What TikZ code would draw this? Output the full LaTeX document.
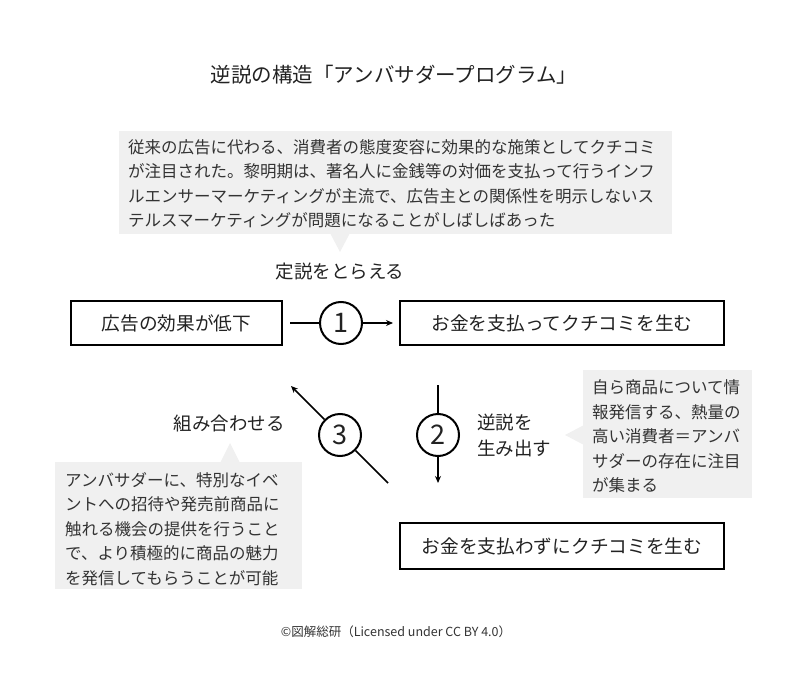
\documentclass[tikz,border=0pt]{standalone}
\usepackage{fontspec}
\setmainfont{Noto Sans CJK JP}
\usetikzlibrary{arrows.meta}
\definecolor{txt}{HTML}{222222}
\definecolor{ctxt}{HTML}{333333}
\definecolor{callgray}{HTML}{F0F0F0}
\begin{document}
\begin{tikzpicture}[x=1pt,y=-1pt,
  every node/.style={inner sep=0pt, text=txt},
  titlefont/.style={font=\fontsize{20.5}{24}\selectfont},
  boxfont/.style={font=\fontsize{18.7}{22}\selectfont},
  callfont/.style={font=\fontsize{16.5}{24.5}\selectfont, text=ctxt, align=left},
  labelfont/.style={font=\fontsize{18.5}{26}\selectfont, align=left},
  mainbox/.style={draw=black, line width=2pt, rectangle, boxfont},
  numcirc/.style={draw=black, line width=2pt, circle, minimum size=42pt, font=\fontsize{27}{30}\selectfont},
  conn/.style={draw=black, line width=1.5pt},
  arr/.style={conn, -{Stealth[length=7pt,width=6pt]}},
  callbg/.style={fill=callgray, draw=none}
]
\useasboundingbox (0,0) rectangle (800,695);

% title
\node[titlefont] (title) at (394,75) {逆説の構造「アンバサダープログラム」};

% callout backgrounds
\fill[callbg] (119,131) rectangle (672,234);
\fill[callbg] (330,233) -- (350,233) -- (340,252) -- cycle;
\fill[callbg] (583,370) rectangle (752,498);
\fill[callbg] (584,425) -- (584,445) -- (565,435) -- cycle;
\fill[callbg] (55,462) rectangle (302,589);
\fill[callbg] (220,463) -- (240,463) -- (230,443) -- cycle;

% callout texts
\node[callfont, anchor=west] (calltop) at (128,183.5) {従来の広告に代わる、消費者の態度変容に効果的な施策としてクチコミ\\が注目された。黎明期は、著名人に金銭等の対価を支払って行うインフ\\ルエンサーマーケティングが主流で、広告主との関係性を明示しない\rlap{ス}\\テルスマーケティングが問題になることがしばしばあった};
\node[callfont, anchor=west] (callright) at (592,436.5) {自ら商品について情\\報発信する、熱量の\\高い消費者＝アンバ\\サダーの存在に注目\\が集まる};
\node[callfont, anchor=west] (callleft) at (65,529) {アンバサダーに、特別なイベ\\ントへの招待や発売前商品に\\触れる機会の提供を行うこと\\で、より積極的に商品の魅力\\を発信してもらうことが可能};

% labels
\node[labelfont] (lab1) at (340,272) {定説をとらえる};
\node[labelfont] (lab3) at (229,423) {組み合わせる};
\node[labelfont, anchor=west] (lab2) at (477,435) {逆説を\\生み出す};

% boxes
\node[mainbox, minimum width=211pt, minimum height=44pt] (b1) at (176.5,323) {広告の効果が低下};
\node[mainbox, minimum width=324pt, minimum height=44pt] (b2) at (562,323) {お金を支払ってクチコミを生む};
\node[mainbox, minimum width=324pt, minimum height=46pt] (b3) at (562,546) {お金を支払わずにクチコミを生む};

% circles
\node[numcirc] (c1) at (341,323) {1};
\node[numcirc] (c2) at (438,435) {2};
\node[numcirc] (c3) at (340,435) {3};

% free ends
\coordinate (a2s) at (438,385);
\coordinate (a2e) at (438,483);
\coordinate (a3s) at (388,483);
\coordinate (a3e) at (291,386);

% connectors
\draw[conn, shorten <=7pt] (b1) -- (c1);
\draw[arr, shorten >=6pt] (c1) -- (b2);
\draw[conn] (a2s) -- (c2);
\draw[arr] (c2) -- (a2e);
\draw[conn] (a3s) -- (c3);
\draw[arr] (c3) -- (a3e);

% footer
\node[font=\fontsize{12.5}{15}\selectfont, text=ctxt] (foot) at (396,632) {©図解総研（Licensed under CC BY 4.0）};
\end{tikzpicture}
\end{document}
